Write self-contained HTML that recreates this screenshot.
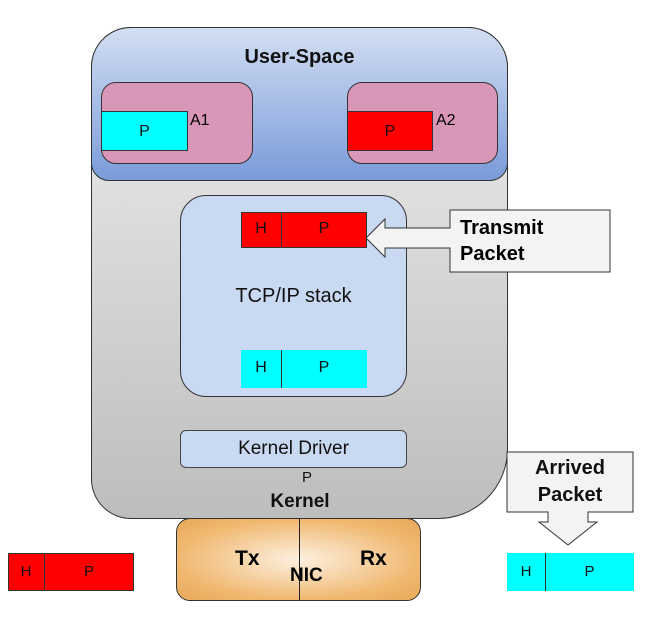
<!DOCTYPE html>
<html><head><style>
body{margin:0;width:660px;height:620px;background:#fff;position:relative;font-family:"Liberation Sans",sans-serif;overflow:hidden}
div{position:absolute;box-sizing:border-box}
.t{text-align:center;color:#111}
</style></head><body>
<div style="left:91px;top:27px;width:417px;height:492px;border:1px solid #333;border-radius:40px 40px 70px 40px;background:linear-gradient(#efefef,#bdbdbd)"></div>
<div style="left:91px;top:27px;width:417px;height:154px;border:1px solid #333;border-radius:40px 40px 18px 18px;background:linear-gradient(#d2def2,#7a9bd9)"></div>
<div class="t" style="left:91px;top:46px;width:417px;font-size:20px;font-weight:bold">User-Space</div>
<div style="left:101px;top:82px;width:152px;height:82px;border:1px solid #333;border-radius:15px;background:#d896b8"></div>
<div class="t" style="left:101px;top:111px;width:87px;height:40px;background:#0ff;border:1px solid #333;line-height:40px;font-size:16px">P</div>
<div style="left:190px;top:112px;font-size:16px">A1</div>
<div style="left:347px;top:82px;width:151px;height:82px;border:1px solid #333;border-radius:15px;background:#d896b8"></div>
<div class="t" style="left:347px;top:111px;width:86px;height:40px;background:#f00;border:1px solid #333;line-height:40px;font-size:16px">P</div>
<div style="left:436px;top:112px;font-size:16px">A2</div>

<div style="left:180px;top:195px;width:227px;height:202px;border:1px solid #333;border-radius:26px;background:#c9d9f1"></div>
<div style="left:241px;top:212px;width:126px;height:36px;background:#f00;border:1px solid #333"></div>
<div style="left:281px;top:212px;width:1px;height:36px;background:#333"></div>
<div class="t" style="left:241px;top:220px;width:40px;font-size:16px">H</div>
<div class="t" style="left:281px;top:220px;width:86px;font-size:16px">P</div>
<div class="t" style="left:180px;top:285px;width:227px;font-size:20px">TCP/IP stack</div>
<div style="left:241px;top:350px;width:126px;height:38px;background:#0ff"></div>
<div style="left:281px;top:350px;width:1px;height:38px;background:#333"></div>
<div class="t" style="left:241px;top:359px;width:40px;font-size:16px">H</div>
<div class="t" style="left:281px;top:359px;width:86px;font-size:16px">P</div>

<div class="t" style="left:180px;top:430px;width:227px;height:38px;border:1px solid #444;border-radius:6px;background:#c9d9f1;line-height:36px;font-size:19px">Kernel Driver</div>
<div class="t" style="left:297px;top:469px;width:20px;font-size:15px">P</div>
<div class="t" style="left:240px;top:491px;width:120px;font-size:19px;font-weight:bold">Kernel</div>

<div style="left:176px;top:518px;width:245px;height:83px;border:1px solid #333;border-radius:14px;background:radial-gradient(ellipse at 50% 50%,#fdf0e0,#f0b870 70%,#e8a858)"></div>
<div style="left:299px;top:518px;width:1px;height:83px;background:#222"></div>
<div style="left:235px;top:547px;font-size:21px;font-weight:bold">Tx</div>
<div style="left:360px;top:547px;font-size:21px;font-weight:bold">Rx</div>
<div style="left:290px;top:565px;font-size:19px;font-weight:bold">NIC</div>

<div style="left:8px;top:553px;width:126px;height:38px;background:#f00;border:1px solid #333"></div>
<div style="left:44px;top:553px;width:1px;height:38px;background:#333"></div>
<div class="t" style="left:8px;top:563px;width:36px;font-size:15px">H</div>
<div class="t" style="left:44px;top:563px;width:90px;font-size:15px">P</div>

<div style="left:507px;top:553px;width:127px;height:38px;background:#0ff"></div>
<div style="left:545px;top:553px;width:1px;height:38px;background:#333"></div>
<div class="t" style="left:507px;top:563px;width:38px;font-size:15px">H</div>
<div class="t" style="left:545px;top:563px;width:89px;font-size:15px">P</div>

<svg width="660" height="620" style="position:absolute;left:0;top:0">
<path d="M450,210 H610 V272 H450 V248 H385 V257 L366,238 L385,219 V228 H450 Z" fill="#f3f3f3" stroke="#333" stroke-width="1"/>
<path d="M507,452 H633 V512 H588 V522 H597 L568,545 L539,522 H548 V512 H507 Z" fill="#f3f3f3" stroke="#333" stroke-width="1"/>
</svg>
<div style="left:460px;top:215px;font-size:20px;font-weight:bold;line-height:26px">Transmit<br>Packet</div>
<div class="t" style="left:507px;top:455px;width:126px;font-size:20px;font-weight:bold;line-height:27px">Arrived<br>Packet</div>
</body></html>
